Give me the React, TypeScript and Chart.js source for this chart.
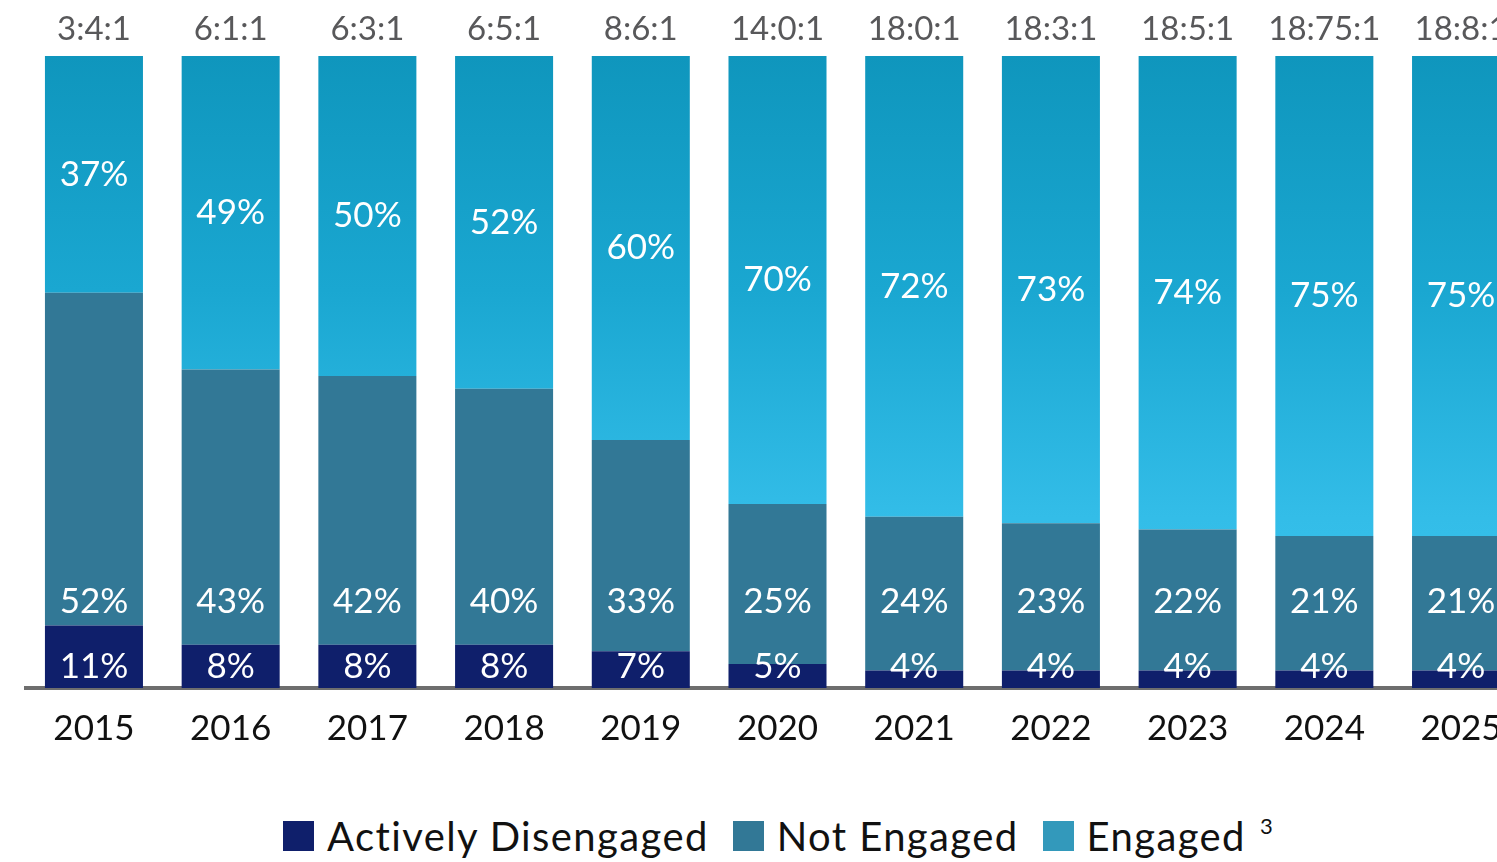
import React, { useEffect, useRef } from "react";
import { Chart, registerables } from "chart.js";

Chart.register(...registerables);

const years = ["2015", "2016", "2017", "2018", "2019", "2020", "2021", "2022", "2023", "2024", "2025"];
const ratios = ["3:4:1", "6:1:1", "6:3:1", "6:5:1", "8:6:1", "14:0:1", "18:0:1", "18:3:1", "18:5:1", "18:75:1", "18:8:1"];
const activelyDisengaged = [11, 8, 8, 8, 7, 5, 4, 4, 4, 4, 4];
const notEngaged = [52, 43, 42, 40, 33, 25, 24, 23, 22, 21, 21];
const engaged = [37, 49, 50, 52, 60, 70, 72, 73, 74, 75, 75];

const seriesNames = ["Actively Disengaged", "Not Engaged", "Engaged"];

const COLOR_AD = "#0f1f6b";
const COLOR_NE = "#327896";
const COLOR_EN_LEGEND = "#3399bb";
const FONT = "Lato, 'Open Sans', sans-serif";

const NE_LABEL_AT = 14.7;
const AD_LABEL_AT = 4.5;

const segLabels = {
  id: "segLabels",
  afterDatasetsDraw(chart: any) {
    const { ctx } = chart;
    const yScale = chart.scales.y;
    chart.data.datasets.forEach((ds: any, di: number) => {
      const meta = chart.getDatasetMeta(di);
      meta.data.forEach((bar: any, i: number) => {
        const v = ds.data[i];
        let cy: number;
        if (di === 2) cy = (bar.y + bar.base) / 2;
        else if (di === 1) cy = yScale.getPixelForValue(NE_LABEL_AT);
        else cy = yScale.getPixelForValue(AD_LABEL_AT);
        ctx.save();
        ctx.fillStyle = "#ffffff";
        ctx.font = `35px ${FONT}`;
        ctx.textAlign = "center";
        ctx.textBaseline = "middle";
        ctx.fillText(`${v}%`, bar.x, cy);
        ctx.restore();
      });
    });
  },
};

function engagedFill(context: any) {
  const chart = context.chart;
  const { ctx, chartArea } = chart;
  if (!chartArea) return "#1aa6d0";
  const g = ctx.createLinearGradient(0, chartArea.top, 0, chartArea.bottom);
  g.addColorStop(0, "#0f96bd");
  g.addColorStop(0.37, "#1aa7d1");
  g.addColorStop(0.73, "#33bde8");
  g.addColorStop(1, "#3cc6f2");
  return g;
}

export default function App() {
  const ref = useRef<HTMLCanvasElement>(null);

  useEffect(() => {
    if (!ref.current) return;
    const chart = new Chart(ref.current, {
      type: "bar",
      data: {
        labels: years,
        datasets: [
          { label: seriesNames[0], data: activelyDisengaged, backgroundColor: COLOR_AD, clip: 0 } as any,
          { label: seriesNames[1], data: notEngaged, backgroundColor: COLOR_NE, clip: 0 } as any,
          { label: seriesNames[2], data: engaged, backgroundColor: engagedFill, clip: 0 } as any,
        ],
      },
      options: {
        responsive: false,
        animation: false,
        devicePixelRatio: 1,
        layout: { padding: { left: 25.6, right: 10.6, top: 0, bottom: 0 } },
        datasets: { bar: { categoryPercentage: 1, barPercentage: 0.717 } },
        plugins: { legend: { display: false }, tooltip: { enabled: false } },
        scales: {
          x: {
            type: "category",
            stacked: true,
            position: "bottom",
            z: 1,
            grid: { display: false, drawTicks: false, tickLength: 0 },
            border: { display: true, color: "rgba(85,85,85,0.85)", width: 4 },
            ticks: { color: "#111111", font: { family: FONT, size: 35 }, padding: 20, maxRotation: 0, autoSkip: false },
            afterFit: (s: any) => { s.height = 112; },
          },
          xTop: {
            type: "category",
            position: "top",
            labels: ratios,
            offset: true,
            grid: { display: false, drawTicks: false, tickLength: 0 },
            border: { display: false },
            ticks: { color: "#58585a", font: { family: FONT, size: 33 }, padding: 7, maxRotation: 0, autoSkip: false },
            afterFit: (s: any) => { s.height = 56; },
          },
          y: { stacked: true, display: false, min: 1.25, max: 100 },
        },
      },
      plugins: [segLabels],
    });
    return () => chart.destroy();
  }, []);

  const legendItems = [
    { name: seriesNames[0], color: COLOR_AD, sup: "" },
    { name: seriesNames[1], color: COLOR_NE, sup: "" },
    { name: seriesNames[2], color: COLOR_EN_LEGEND, sup: "3" },
  ];

  return (
    <div style={{ position: "absolute", left: 0, top: 0, width: 1497, height: 862, overflow: "hidden", background: "#fff" }}>
      <canvas ref={ref} width={1540} height={800} style={{ position: "absolute", left: 0, top: 0 }} />
      <div style={{ position: "absolute", left: 283, top: 813, display: "flex", alignItems: "center", fontFamily: FONT, fontSize: 40, letterSpacing: 1.4, color: "#111", whiteSpace: "nowrap", lineHeight: "46px" }}>
        {legendItems.map((it, i) => (
          <div key={i} style={{ display: "flex", alignItems: "center", marginRight: 24 }}>
            <span style={{ display: "inline-block", width: 31, height: 30, background: it.color, marginRight: 13 }} />
            <span>{it.name}</span>
            {it.sup ? <span style={{ fontSize: 22, position: "relative", top: -10, marginLeft: 14, letterSpacing: 0 }}>{it.sup}</span> : null}
          </div>
        ))}
      </div>
    </div>
  );
}
